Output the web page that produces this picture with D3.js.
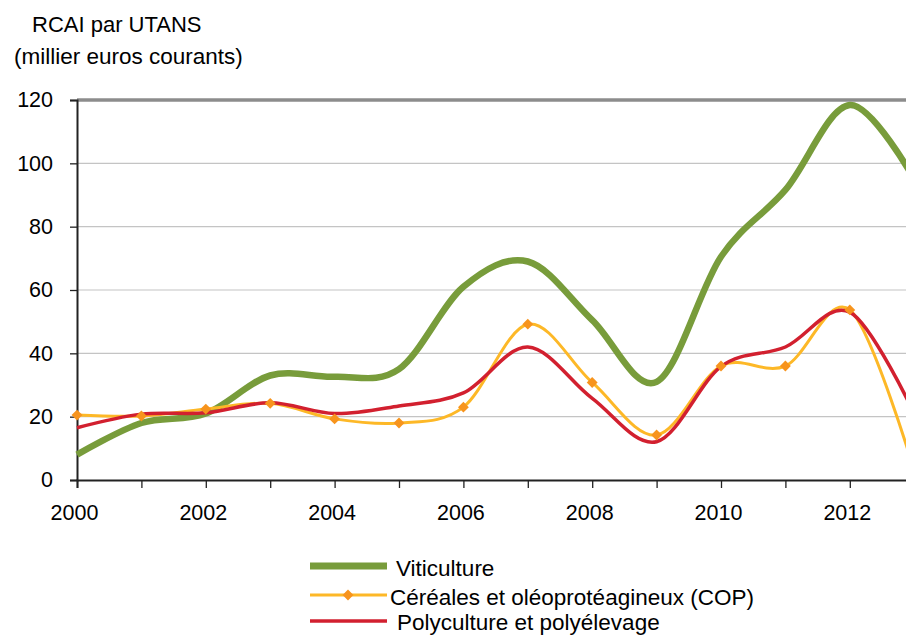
<!DOCTYPE html>
<html>
<head>
<meta charset="utf-8">
<script src="https://cdn.jsdelivr.net/npm/d3@7"></script>
<style>
  body { margin: 0; background: #fff; }
  svg text { font-family: "Liberation Sans", Arial, sans-serif; fill: #000; }
</style>
</head>
<body>
<div id="chart"></div>
<script>
// data (thousand euros, current)
const years = [2000, 2001, 2002, 2003, 2004, 2005, 2006, 2007, 2008, 2009, 2010, 2011, 2012, 2013];
const viticulture = [8, 18, 21, 33, 32.6, 35, 61, 69, 50.5, 31, 70.5, 91.6, 118.4, 95];
const cop = [20.5, 20.2, 22.4, 24.2, 19.3, 18, 23, 49.2, 30.8, 14.2, 36, 36, 53.7, 3];
const polyculture = [16.5, 20.8, 21.2, 24.4, 21, 23.4, 27.5, 42, 25.8, 12.1, 35.8, 42, 53, 21];
const yTicks = [0, 20, 40, 60, 80, 100, 120];
const xLabels = [2000, 2002, 2004, 2006, 2008, 2010, 2012];
const seriesNames = ["Viticulture", "Céréales et oléoprotéagineux (COP)", "Polyculture et polyélevage"];

const width = 906, height = 635;
const plotLeft = 77, plotTop = 100, plotBottom = 480;

const svg = d3.select("#chart").append("svg")
    .attr("width", width)
    .attr("height", height);

const x = d3.scaleLinear().domain([2000, 2013]).range([plotLeft, plotLeft + 13 * 64.4]);
const y = d3.scaleLinear().domain([0, 120]).range([plotBottom, plotTop]);

// titles
svg.append("text").attr("x", 32).attr("y", 32).style("font-size", "22px").text("RCAI par UTANS");
svg.append("text").attr("x", 14).attr("y", 64).style("font-size", "22.5px").text("(millier euros courants)");

// gridlines
svg.append("g").selectAll("line")
    .data(yTicks.filter(d => d > 0 && d < 120))
    .enter().append("line")
    .attr("x1", plotLeft).attr("x2", width)
    .attr("y1", d => y(d)).attr("y2", d => y(d))
    .attr("stroke", "#c4c4c4").attr("stroke-width", 1.2);

// top border
svg.append("line")
    .attr("x1", plotLeft).attr("x2", width)
    .attr("y1", y(120)).attr("y2", y(120))
    .attr("stroke", "#8c8c8c").attr("stroke-width", 3.5);

// y axis
const yAxis = svg.append("g")
    .attr("transform", "translate(" + plotLeft + ",0)")
    .call(d3.axisLeft(y).tickValues(yTicks).tickSize(7).tickPadding(17));
yAxis.select(".domain").attr("stroke", "#222").attr("stroke-width", 2);
yAxis.selectAll(".tick line").attr("stroke", "#222").attr("stroke-width", 1.3);
yAxis.selectAll("text").style("font-size", "21.5px").style("font-family", "Liberation Sans, Arial, sans-serif");

// x axis
const xAxis = svg.append("g")
    .attr("transform", "translate(0," + plotBottom + ")")
    .call(d3.axisBottom(x).tickValues(years).tickSize(8).tickPadding(17)
        .tickFormat(d => xLabels.includes(d) ? d : ""));
xAxis.select(".domain").attr("stroke", "#222").attr("stroke-width", 2);
xAxis.selectAll(".tick line").attr("stroke", "#222").attr("stroke-width", 1.3);
xAxis.selectAll("text").style("font-size", "21.5px").style("font-family", "Liberation Sans, Arial, sans-serif")
    .attr("dx", -3);

const line = d3.line()
    .x((d, i) => x(years[i]))
    .y(d => y(d))
    .curve(d3.curveCardinal);

svg.append("path").datum(viticulture)
    .attr("d", line).attr("fill", "none")
    .attr("stroke", "#789c3b").attr("stroke-width", 6.5);

svg.append("path").datum(cop)
    .attr("d", line).attr("fill", "none")
    .attr("stroke", "#fdb827").attr("stroke-width", 3);

svg.append("path").datum(polyculture)
    .attr("d", line).attr("fill", "none")
    .attr("stroke", "#d2202f").attr("stroke-width", 3.5);

const diamond = d3.symbol().type(d3.symbolDiamond2).size(75);

svg.append("g").selectAll("path")
    .data(cop)
    .enter().append("path")
    .attr("d", diamond)
    .attr("transform", (d, i) => "translate(" + x(years[i]) + "," + y(d) + ")")
    .attr("fill", "#f7941d");

// legend
const legend = svg.append("g");
const lx1 = 310, lx2 = 387;
legend.append("line").attr("x1", lx1).attr("x2", lx2).attr("y1", 566).attr("y2", 566)
    .attr("stroke", "#789c3b").attr("stroke-width", 7);
legend.append("text").attr("x", 396).attr("y", 576).style("font-size", "22.5px").text(seriesNames[0]);

legend.append("line").attr("x1", lx1).attr("x2", lx2).attr("y1", 595).attr("y2", 595)
    .attr("stroke", "#fdb827").attr("stroke-width", 3);
legend.append("path").attr("d", diamond)
    .attr("transform", "translate(348,595)").attr("fill", "#f7941d");
legend.append("text").attr("x", 390).attr("y", 605).style("font-size", "22.5px").text(seriesNames[1]);

legend.append("line").attr("x1", lx1).attr("x2", lx2).attr("y1", 621).attr("y2", 621)
    .attr("stroke", "#d2202f").attr("stroke-width", 3.5);
legend.append("text").attr("x", 397).attr("y", 630).style("font-size", "22.5px").text(seriesNames[2]);
</script>
</body>
</html>
